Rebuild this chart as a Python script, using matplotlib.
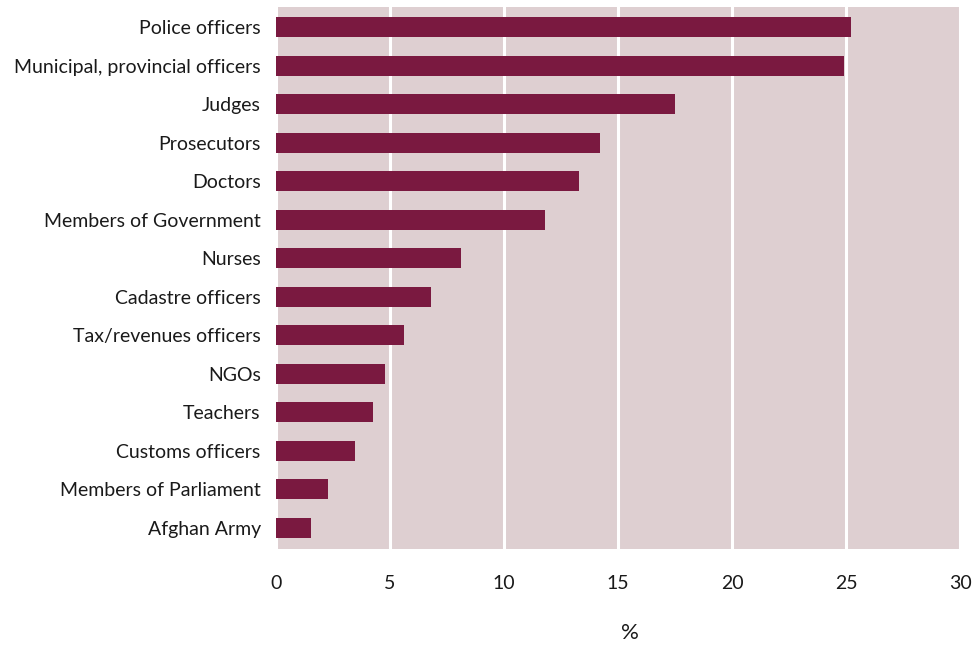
import matplotlib
matplotlib.use("Agg")
import matplotlib.pyplot as plt

categories = ["Police officers", "Municipal, provincial officers", "Judges", "Prosecutors",
              "Doctors", "Members of Government", "Nurses", "Cadastre officers",
              "Tax/revenues officers", "NGOs", "Teachers", "Customs officers",
              "Members of Parliament", "Afghan Army"]
values = [25.2, 24.9, 17.5, 14.2, 13.3, 11.8, 8.1, 6.8, 5.6, 4.8, 4.25, 3.45, 2.3, 1.55]
xticks = [0, 5, 10, 15, 20, 25, 30]

plt.rcParams['font.family'] = ['Lato', 'DejaVu Sans']

fig = plt.figure(figsize=(9.73, 6.46), dpi=100)
ax = fig.add_axes([276/973, (646-549)/646, (960-276)/973, (549-7)/646])
ax.set_facecolor("#decfd1")

y = list(range(len(categories)))
ax.barh(y, values, height=0.52, color="#7a1940", zorder=3)
ax.set_xlim(0, 30)
ax.set_ylim(len(categories) - 0.45, -0.53)
ax.set_yticks(y)
ax.set_yticklabels(categories, fontsize=14, color="#1a1a1a")
ax.set_xticks(xticks)
ax.set_xticklabels([str(t) for t in xticks], fontsize=14, color="#1a1a1a")
ax.tick_params(axis='both', length=0)
ax.tick_params(axis='y', pad=11)
ax.tick_params(axis='x', pad=19)
ax.xaxis.grid(True, color="white", linewidth=2.2, zorder=1)
ax.set_axisbelow(True)
for s in ax.spines.values():
    s.set_visible(False)
ax.set_xlabel("%", fontsize=16, color="#1a1a1a")
ax.xaxis.set_label_coords((630-276)/(960-276), -(633-549)/(549-7), transform=ax.transAxes)
ax.xaxis.label.set_va("center")

fig.savefig("out.png", dpi=100, facecolor="white")
